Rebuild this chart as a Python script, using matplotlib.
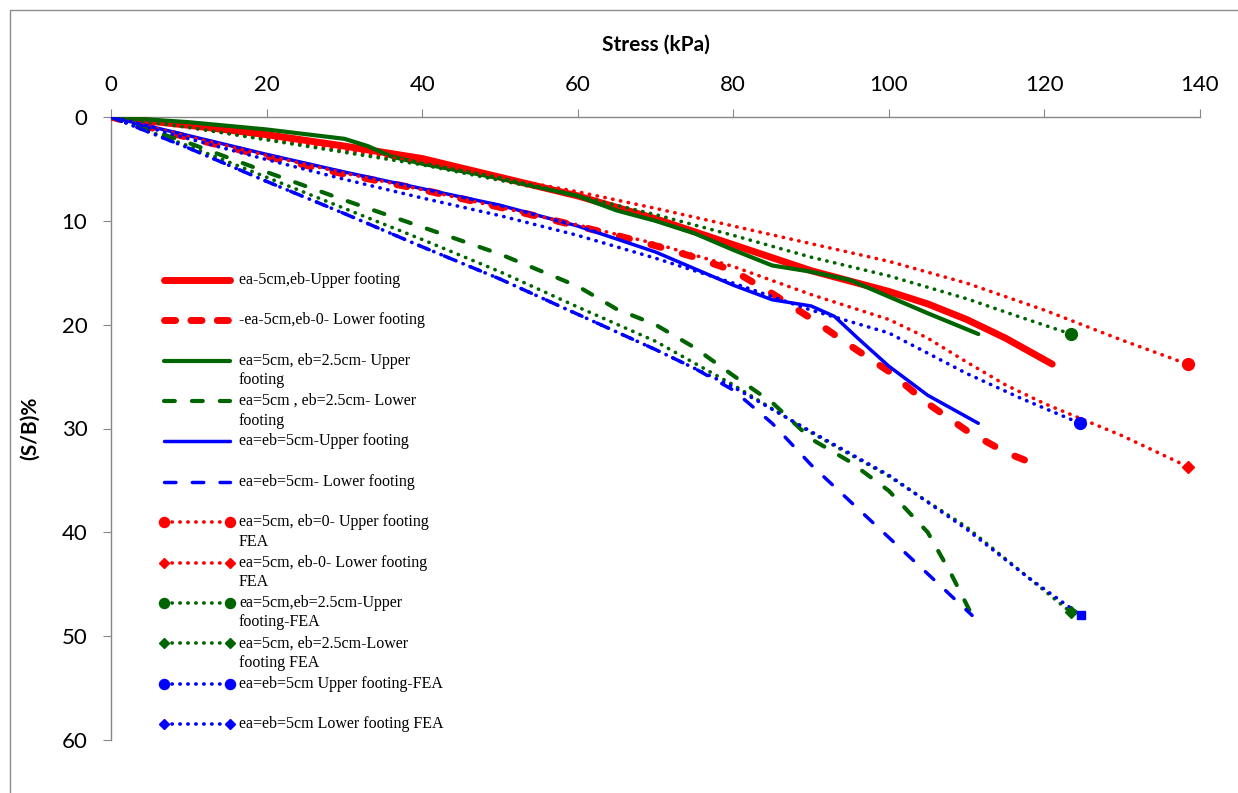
import matplotlib
matplotlib.use("Agg")
import matplotlib.pyplot as plt
from matplotlib.lines import Line2D
from matplotlib.patches import Rectangle

# Figure size in pixels (dpi 100)
W, H = 1238, 793

# ── data: stress (kPa) vs settlement ratio (S/B)% ──────────────────────────
red_up_x = [0, 10, 20, 30, 40, 50, 60, 70, 80, 90, 100, 105, 110, 115, 121]
red_up_y = [0, 0.8, 1.7, 2.8, 4.0, 5.8, 7.6, 9.8, 12.3, 14.8, 16.8, 18.0, 19.5, 21.3, 23.8]

red_lo_x = [0, 10, 20, 30, 40, 50, 55, 60, 65, 70, 75, 80, 85, 90, 95, 100, 105, 110, 115, 120]
red_lo_y = [0, 2.0, 3.8, 5.5, 7.0, 8.7, 9.6, 10.5, 11.4, 12.4, 13.5, 14.8, 17.0, 19.4, 22.0, 24.5, 27.6, 30.2, 32.3, 33.8]

grn_up_x = [0, 10, 20, 30, 33, 36, 40, 50, 60, 65, 70, 75, 80, 85, 90, 95, 100, 105, 111.5]
grn_up_y = [0, 0.5, 1.2, 2.1, 2.8, 3.8, 4.5, 5.9, 7.6, 9.0, 10.0, 11.2, 12.8, 14.3, 14.9, 15.7, 17.3, 18.9, 20.9]

grn_lo_x = [0, 10, 20, 30, 40, 50, 60, 65, 70, 75, 80, 85, 90, 95, 100, 105, 108, 110.7]
grn_lo_y = [0, 2.5, 5.3, 8.0, 10.6, 13.2, 16.3, 18.5, 20.0, 22.2, 24.9, 27.5, 31.0, 33.2, 36.0, 40.0, 44.0, 48.0]

blu_up_x = [0, 10, 20, 30, 40, 50, 60, 70, 80, 85, 90, 93, 96, 100, 105, 111.5]
blu_up_y = [0, 1.8, 3.6, 5.3, 6.9, 8.5, 10.5, 13.0, 16.2, 17.6, 18.2, 19.2, 21.3, 24.0, 26.8, 29.5]

blu_lo_x = [0, 10, 20, 30, 40, 50, 60, 70, 75, 80, 85, 90, 95, 100, 105, 110.7]
blu_lo_y = [0, 3.0, 6.2, 9.3, 12.5, 15.6, 19.0, 22.4, 24.2, 26.3, 29.5, 33.5, 37.0, 40.5, 44.0, 48.0]

# FEA series
red_up_fea_x = [0, 10, 20, 30, 40, 50, 60, 70, 80, 90, 100, 110, 120, 130, 138.4]
red_up_fea_y = [0, 1.0, 2.1, 3.2, 4.4, 5.8, 7.2, 8.8, 10.5, 12.2, 13.9, 16.0, 18.6, 21.5, 23.8]

red_lo_fea_x = [0, 10, 20, 30, 40, 50, 60, 70, 80, 90, 100, 105, 110, 115, 120, 130, 138.5]
red_lo_fea_y = [0, 1.9, 3.7, 5.4, 7.0, 8.7, 10.4, 12.2, 14.4, 17.1, 19.5, 21.3, 23.6, 25.8, 27.6, 30.7, 33.7]

grn_up_fea_x = [0, 10, 20, 30, 40, 50, 60, 70, 80, 90, 100, 110, 117, 123.4]
grn_up_fea_y = [0, 1.0, 2.2, 3.4, 4.6, 6.1, 7.6, 9.4, 11.4, 13.5, 15.3, 17.5, 19.3, 20.9]

grn_lo_fea_x = [0, 10, 20, 30, 40, 50, 60, 70, 80, 90, 100, 110, 118, 123.4]
grn_lo_fea_y = [0, 2.8, 5.8, 8.8, 11.8, 14.9, 18.3, 21.6, 25.8, 30.4, 34.6, 39.5, 44.4, 47.7]

blu_up_fea_x = [0, 10, 20, 30, 40, 50, 60, 70, 80, 90, 100, 110, 117, 124.6]
blu_up_fea_y = [0, 2.1, 4.1, 6.0, 7.8, 9.5, 11.4, 13.6, 16.0, 18.6, 20.8, 24.7, 27.1, 29.5]

blu_lo_fea_x = [0, 10, 20, 30, 40, 50, 60, 70, 80, 90, 100, 110, 118, 124.7]
blu_lo_fea_y = [0, 3.0, 6.2, 9.3, 12.5, 15.6, 19.0, 22.4, 26.0, 30.3, 34.5, 39.7, 44.4, 48.0]

labels = [
    "ea-5cm,eb-Upper footing",
    "-ea-5cm,eb-0- Lower footing",
    "ea=5cm, eb=2.5cm- Upper\nfooting",
    "ea=5cm , eb=2.5cm- Lower\nfooting",
    "ea=eb=5cm-Upper footing",
    "ea=eb=5cm- Lower footing",
    "ea=5cm, eb=0- Upper footing\nFEA",
    "ea=5cm, eb-0- Lower footing\nFEA",
    "ea=5cm,eb=2.5cm-Upper\nfooting-FEA",
    "ea=5cm, eb=2.5cm-Lower\nfooting FEA",
    "ea=eb=5cm Upper footing-FEA",
    "ea=eb=5cm Lower footing FEA",
]

RED, GRN, BLU = "#FF0000", "#006400", "#0000FF"
DOT = (0, (0.1, 2.1))

# (x, y, color, lw, linestyle, end marker, marker size)
series = [
    (red_up_x, red_up_y, RED, 5.0, "-", None, 0),
    (red_lo_x, red_lo_y, RED, 5.0, (0, (1.5, 3.2)), None, 0),
    (grn_up_x, grn_up_y, GRN, 3.0, "-", None, 0),
    (grn_lo_x, grn_lo_y, GRN, 3.0, (0, (2.6, 4.1)), None, 0),
    (blu_up_x, blu_up_y, BLU, 2.5, "-", None, 0),
    (blu_lo_x, blu_lo_y, BLU, 2.5, (0, (3.3, 4.7)), None, 0),
    (red_up_fea_x, red_up_fea_y, RED, 2.6, DOT, "o", 8.5),
    (red_lo_fea_x, red_lo_fea_y, RED, 2.6, DOT, "D", 6),
    (grn_up_fea_x, grn_up_fea_y, GRN, 2.6, DOT, "o", 8.5),
    (grn_lo_fea_x, grn_lo_fea_y, GRN, 2.6, DOT, "D", 6),
    (blu_up_fea_x, blu_up_fea_y, BLU, 2.6, DOT, "o", 8.5),
    (blu_lo_fea_x, blu_lo_fea_y, BLU, 2.6, DOT, "s", 6),
]


def fx(px):
    return px / W


def fy(py):
    return 1 - py / H


fig = plt.figure(figsize=(W / 100, H / 100), dpi=100)
fig.patches.append(Rectangle((fx(10), fy(H + 20)), 1.2, fy(10) - fy(H + 20),
                             transform=fig.transFigure, fill=False,
                             edgecolor="#8c8c8c", lw=1.0))

ax = fig.add_axes([fx(111), fy(740), fx(1200) - fx(111), fy(117) - fy(740)])
ax.set_xlim(0, 140)
ax.set_ylim(60, 0)

for x, y, c, lw, ls, mk, ms in series:
    ax.plot(x, y, color=c, lw=lw, linestyle=ls, solid_capstyle="round",
            dash_capstyle="round", zorder=3)
    if mk:
        ax.plot(x[-1:], y[-1:], marker=mk, color=c, ms=ms, lw=0, zorder=4)

# axes styling
for s in ["right", "bottom"]:
    ax.spines[s].set_visible(False)
for s in ["left", "top"]:
    ax.spines[s].set_color("#868686")
    ax.spines[s].set_linewidth(1.0)
ax.xaxis.tick_top()
ax.xaxis.set_label_position("top")
ax.set_xticks(range(0, 141, 20))
ax.set_yticks(range(0, 61, 10))
ax.tick_params(axis="both", direction="out", length=6, color="#868686",
               labelsize=16)
ax.tick_params(axis="x", pad=10)
ax.tick_params(axis="y", pad=11)
tick_font = ["Lato", "DejaVu Sans"]
for lab in ax.get_xticklabels() + ax.get_yticklabels():
    lab.set_family(tick_font)
ax.set_xlabel("Stress (kPa)", fontsize=15, fontweight="bold", family=tick_font)
ax.set_ylabel("(S/B)%", fontsize=15, fontweight="bold", family=tick_font)
ax.xaxis.set_label_coords(0.5, 1 + (117 - 45) / 623, transform=ax.transAxes)
ax.yaxis.set_label_coords((30 - 111) / 1089, 0.5, transform=ax.transAxes)
ax.xaxis.label.set_va("center")
ax.yaxis.label.set_va("center")

# legend drawn by hand to keep Excel's row layout
row0, step = 280, 40.36
hx0, hx1, tx = 161, 233, 239
for i, (x, y, c, lw, ls, mk, ms) in enumerate(series):
    ry = row0 + i * step
    hls = (0, (1.6, 2.2)) if i == 1 else ls
    line = Line2D([fx(hx0 + 3), fx(hx1 - 3)], [fy(ry), fy(ry)], color=c, lw=lw,
                  linestyle=hls, solid_capstyle="round", dash_capstyle="round",
                  transform=fig.transFigure)
    fig.lines.append(line)
    if mk:
        lm = "o" if mk == "o" else "D"
        fig.lines.append(Line2D([fx(hx0 + 3), fx(hx1 - 3)], [fy(ry), fy(ry)],
                                lw=0, marker=lm, ms=ms * 0.85, color=c,
                                transform=fig.transFigure))
    fig.text(fx(tx), fy(ry - 8), labels[i], ha="left", va="top", fontsize=11.5,
             family="Liberation Serif", linespacing=1.3)

fig.savefig("out.png", dpi=100)
